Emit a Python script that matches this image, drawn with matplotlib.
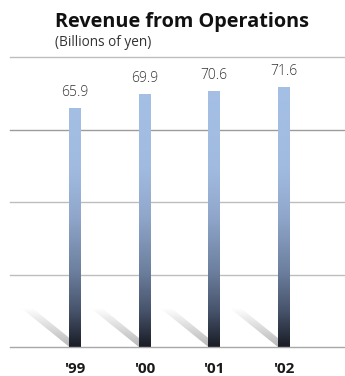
#!/usr/bin/env python3

"""
Revenue from operations bar chart with gradient bars and floor shadows.
"""

import matplotlib
matplotlib.use("Agg")
import matplotlib.pyplot as plt
import numpy as np
from matplotlib.colors import LinearSegmentedColormap
from matplotlib.patches import Rectangle, Polygon

years = ["'99", "'00", "'01", "'02"]
revenue = [65.9, 69.9, 70.6, 71.6]
grid_levels = [20, 40, 60, 80]

Y_MAX = 80
BAR_W = 0.16

# bar fill runs dark at the floor to light blue above the middle
bar_cmap = LinearSegmentedColormap.from_list(
    "bar_fade",
    [(0.0, "#191c25"), (0.12, "#46526a"), (0.26, "#6c7f9e"),
     (0.45, "#90a7cb"), (0.62, "#a1bbe0"), (1.0, "#a6c1e7")])

shadow_cmap = LinearSegmentedColormap.from_list(
    "shadow_fade", [(0.0, "#b8b8b8"), (1.0, "#ffffff")])


def main():
    fig = plt.figure(figsize=(3.45, 3.76), dpi=100)
    ax = fig.add_axes([10 / 345, 29 / 376, 335 / 345, 290 / 376])
    x = np.arange(len(years))
    ax.set_xlim(-0.935, 3.885)
    ax.set_ylim(0, Y_MAX)

    # grid lines
    for lvl in grid_levels:
        col = "#9c9c9c" if lvl == 60 else "#bdbdbd"
        ax.axhline(lvl, color=col, lw=1.0, zorder=1, clip_on=False)
    ax.axhline(0, color="#a8a8a8", lw=1.0, zorder=4, clip_on=False)

    grad = np.linspace(0, 1, 256).reshape(-1, 1)
    for xi, val in zip(x, revenue):
        # shadow leaning back to the upper left
        dx, dy = -0.69, 10.7
        pts = [(xi - BAR_W / 2, 0), (xi + BAR_W / 2, 0),
               (xi + BAR_W / 2 + dx, dy), (xi - BAR_W / 2 + dx, dy)]
        poly = Polygon(pts, closed=True, facecolor="none", edgecolor="none")
        ax.add_patch(poly)
        im = ax.imshow(grad, cmap=shadow_cmap, aspect="auto", origin="lower",
                       extent=(xi - BAR_W / 2 + dx, xi + BAR_W / 2, 0, dy),
                       zorder=2, interpolation="bilinear")
        im.set_clip_path(poly)

        # gradient bar
        rect = Rectangle((xi - BAR_W / 2, 0), BAR_W, val,
                         facecolor="none", edgecolor="none")
        ax.add_patch(rect)
        im = ax.imshow(grad, cmap=bar_cmap, aspect="auto", origin="lower",
                       extent=(xi - BAR_W / 2, xi + BAR_W / 2, 0, Y_MAX),
                       zorder=3, interpolation="bilinear")
        im.set_clip_path(rect)

        ax.text(xi, val + 2.2, f"{val:.1f}", ha="center", va="bottom",
                fontsize=10, color="#333333", family="Open Sans",
                fontweight="light")

    ax.set_xticks(x)
    ax.set_xticklabels(years, fontsize=11, fontweight="bold",
                       family="Open Sans", color="#1a1a1a")
    ax.tick_params(axis="x", length=0, pad=11)
    ax.set_yticks([])
    for s in ax.spines.values():
        s.set_visible(False)

    fig.text(55 / 345, 1 - 22 / 376, "Revenue from Operations",
             fontsize=14.3, fontweight="bold", family="Open Sans",
             color="#111111", va="center", ha="left")
    fig.text(55 / 345, 1 - 43 / 376, "(Billions of yen)",
             fontsize=9.8, family="Open Sans", color="#333333",
             va="center", ha="left")

    fig.savefig("out.png", dpi=100)
    plt.close(fig)


if __name__ == "__main__":
    main()
